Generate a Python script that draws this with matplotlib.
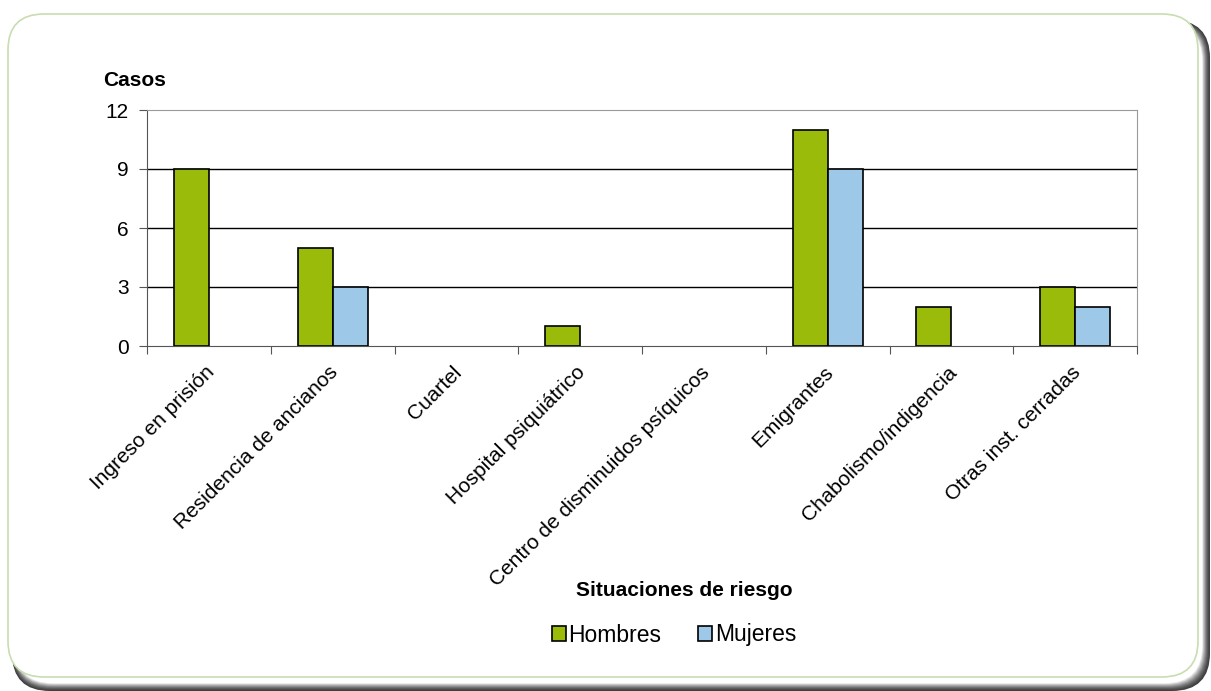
import numpy as np
import matplotlib.pyplot as plt
from matplotlib.patches import FancyBboxPatch, Patch

plt.rcParams['font.family'] = ['Liberation Sans', 'DejaVu Sans']

categorias = ['Ingreso en prisión', 'Residencia de ancianos', 'Cuartel',
              'Hospital psiquiátrico', 'Centro de disminuidos psíquicos',
              'Emigrantes', 'Chabolismo/indigencia', 'Otras inst. cerradas']
hombres = [9, 5, 0, 1, 0, 11, 2, 3]
mujeres = [0, 3, 0, 0, 0, 9, 0, 2]
y_ticks = [0, 3, 6, 9, 12]

verde = '#9BBB0A'
azul = '#9DC8E8'
fs = 15

fig = plt.figure(figsize=(12.11, 6.91), dpi=100)

# tarjeta de fondo con sombra, en coordenadas de pixel
fondo = fig.add_axes([0, 0, 1, 1], zorder=-1)
fondo.set_xlim(0, 1211)
fondo.set_ylim(691, 0)
fondo.axis('off')

n_capas = 12
for i in range(n_capas):
    t = i / (n_capas - 1)
    c = 0.25 + 0.75 * t ** 1.5
    fondo.add_patch(FancyBboxPatch((12 + i * 0.3, 20 + i * 0.3),
                                   1198 - i * 1.0, 671 - i * 1.0,
                                   boxstyle='round,pad=0,rounding_size=38',
                                   fc=(c, c, c), ec='none'))
fondo.add_patch(FancyBboxPatch((8, 14), 1190, 663,
                               boxstyle='round,pad=0,rounding_size=36',
                               fc='white', ec='#C8DDB0', lw=1.2))

ax = fig.add_axes([147 / 1211, 1 - 346 / 691, (1137 - 147) / 1211, (346 - 110) / 691])
x = np.arange(len(categorias))
h = np.array(hombres)
m = np.array(mujeres)
ancho = 0.283
# las barras a cero no se dibujan
ax.bar(x[h > 0] - ancho / 2, h[h > 0], ancho, color=verde, edgecolor='black', linewidth=1.2, zorder=3)
ax.bar(x[m > 0] + ancho / 2, m[m > 0], ancho, color=azul, edgecolor='black', linewidth=1.2, zorder=3)

ax.set_xlim(-0.5, len(categorias) - 0.5)
ax.set_ylim(0, 12)
ax.set_yticks(y_ticks)
ax.set_yticklabels([str(v) for v in y_ticks], fontsize=fs)
for v in y_ticks[1:-1]:
    ax.axhline(v, color='black', lw=1.0, zorder=1)

ax.set_xticks(np.arange(len(categorias) + 1) - 0.5)
ax.set_xticklabels([])
ax.tick_params(axis='x', direction='out', length=6, color='#555555')
ax.tick_params(axis='y', direction='out', length=6, color='#555555', pad=7)
for i, nombre in enumerate(categorias):
    ax.annotate(nombre, xy=(i, 0), xycoords=('data', 'axes fraction'),
                xytext=(-3, -12), textcoords='offset points',
                rotation=45, ha='right', va='top', rotation_mode='anchor',
                fontsize=fs)

for lado in ['top', 'right']:
    ax.spines[lado].set_color('#9A9A9A')
ax.spines['left'].set_color('#555555')
ax.spines['bottom'].set_color('#555555')

fig.text(103 / 1211, 1 - 80 / 691, 'Casos', fontsize=fs, fontweight='bold', va='center')
fig.text(684 / 1211, 1 - 590 / 691, 'Situaciones de riesgo', fontsize=fs,
         fontweight='bold', ha='center', va='center')

manejadores = [Patch(fc=verde, ec='black', lw=1.2), Patch(fc=azul, ec='black', lw=1.2)]
fig.legend(manejadores, ['Hombres', 'Mujeres'], loc='center', ncol=2,
           bbox_to_anchor=(674 / 1211, 1 - 635 / 691), frameon=False,
           fontsize=16.5, handlelength=0.62, handleheight=0.62,
           handletextpad=0.12, columnspacing=1.6)

fig.savefig('out.png', dpi=100)
